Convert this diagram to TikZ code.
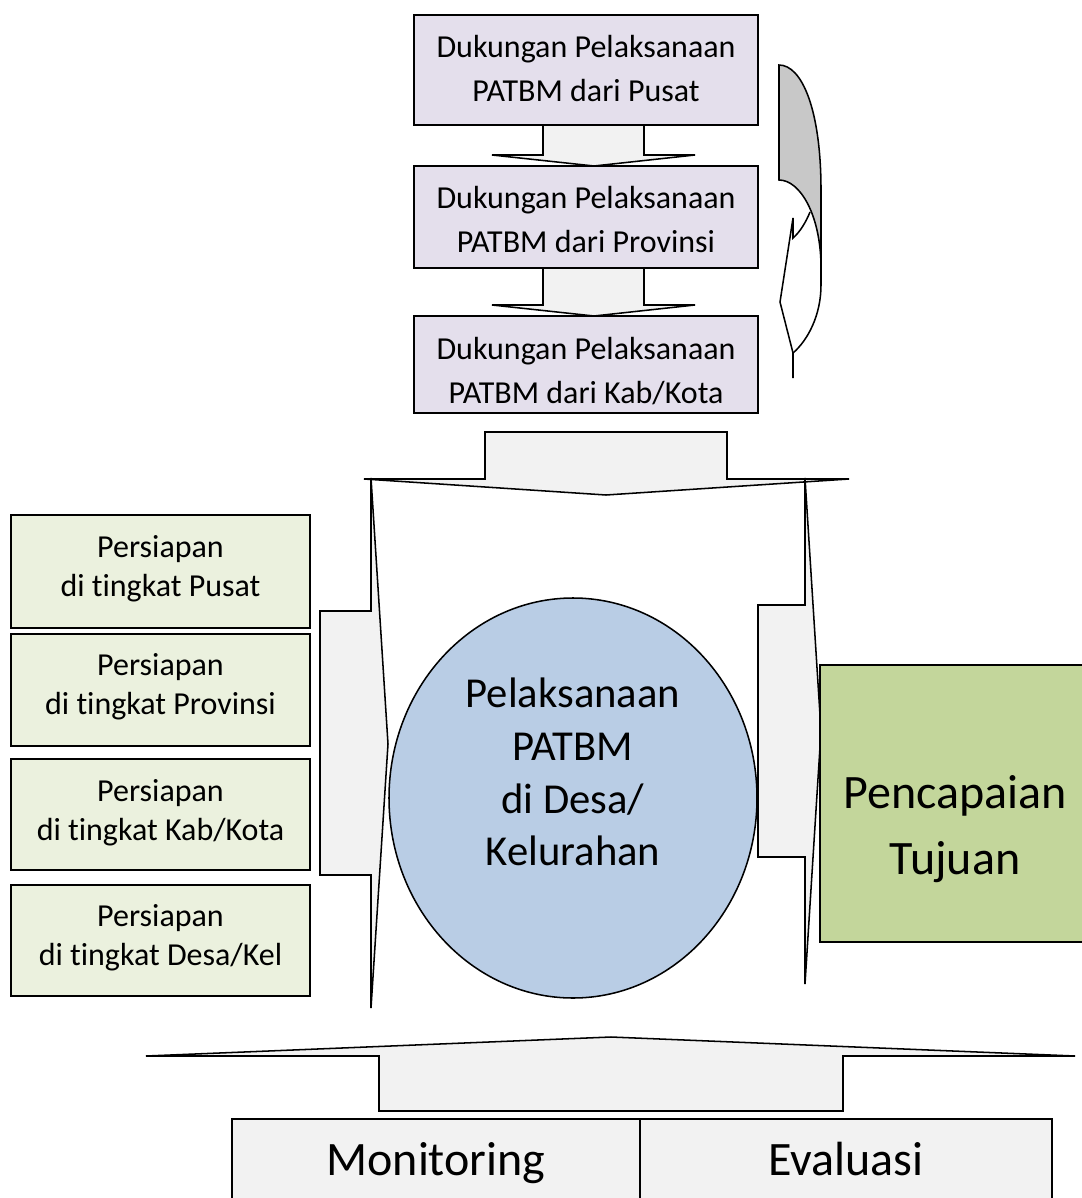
\documentclass[tikz,border=0pt]{standalone}
\usepackage{fontspec}
\setmainfont{Carlito}[Ligatures=NoCommon]
\usetikzlibrary{shapes.geometric}
\definecolor{lavfill}{HTML}{E4DFEC}
\definecolor{arrowfill}{HTML}{F2F2F2}
\definecolor{palegreen}{HTML}{EBF1DE}
\definecolor{bluefill}{HTML}{B9CDE5}
\definecolor{goalgreen}{HTML}{C3D69B}
\definecolor{backgray}{HTML}{C8C8C8}
\tikzset{
  outl/.style={draw=black, line width=1.15pt, line join=miter},
  blockarrow/.style={outl, fill=arrowfill},
  dukbox/.style={outl, fill=lavfill, rectangle, inner sep=0pt, minimum width=258pt},
  prepbox/.style={outl, fill=palegreen, rectangle, inner sep=0pt, minimum width=224.25pt},
  mebox/.style={outl, fill=arrowfill, rectangle, inner sep=0pt, minimum height=72pt},
  txt/.style={inner sep=0pt, align=center},
  dukfont/.style={txt, font=\fontsize{24}{33.5}\selectfont},
  prepfont/.style={txt, font=\fontsize{24}{29}\selectfont},
}
\begin{document}
\begin{tikzpicture}[x=0.75pt, y=-0.75pt]
\useasboundingbox (0,0) rectangle (1081,1198);

% --- curved return arrow beside the support column
\filldraw[outl, fill=backgray] (779,65) .. controls (802,65) and (821,110) .. (821,190)
  -- (821,268) .. controls (821,215) and (800,180) .. (779,180) -- cycle;
\draw[outl] (821,268) -- (821,285) .. controls (821,315) and (808,340) .. (793,353);
\draw[outl] (810,212) .. controls (806,222) and (800,232) .. (793,238)
  -- (793,218) -- (780,302) -- (793,353) -- (793,378);

% --- small arrows between the support boxes
\draw[blockarrow] (543,124) -- (644,124) -- (644,155) -- (695,155) -- (594,166)
  -- (492,155) -- (543,155) -- cycle;
\draw[blockarrow] (543,268) -- (644,268) -- (644,305) -- (695,305) -- (594,316)
  -- (492,305) -- (543,305) -- cycle;

% --- support boxes
\node[dukbox, minimum height=82.5pt] (d1) at (586,70) {};
\node[dukbox, minimum height=76.5pt] (d2) at (586,217) {};
\node[dukbox, minimum height=72.75pt] (d3) at (586,364.5) {};
\node[dukfont] (d1t) at (586,68.5) {Dukungan Pelaksanaan\\PATBM dari Pusat};
\node[dukfont] (d2t) at (586,219.5) {Dukungan Pelaksanaan\\PATBM dari Provinsi};
\node[dukfont] (d3t) at (586,371) {Dukungan Pelaksanaan\\PATBM dari Kab/Kota};

% --- large block arrows around the implementation
\draw[blockarrow] (485,432) -- (727,432) -- (727,479) -- (849,479) -- (606,495)
  -- (364,479) -- (485,479) -- cycle;
\draw[blockarrow] (320,611) -- (371,611) -- (371,478) -- (388,744) -- (371,1008)
  -- (371,875) -- (320,875) -- cycle;
\draw[blockarrow] (758,605) -- (805,605) -- (805,478) -- (821,731) -- (805,984)
  -- (805,857) -- (758,857) -- cycle;
\draw[blockarrow] (379,1111) -- (379,1056) -- (146,1056) -- (611,1037) -- (1075,1056)
  -- (843,1056) -- (843,1111) -- cycle;

% --- preparation boxes
\node[prepbox, minimum height=84.75pt] (p1) at (160.5,571.5) {};
\node[prepbox, minimum height=84pt] (p2) at (160.5,690) {};
\node[prepbox, minimum height=83.25pt] (p3) at (160.5,814.5) {};
\node[prepbox, minimum height=83.25pt] (p4) at (160.5,940.5) {};
\node[prepfont] (p1t) at (160.5,569) {Persiapan\\di tingkat Pusat};
\node[prepfont] (p2t) at (160.5,687) {Persiapan\\di tingkat Provinsi};
\node[prepfont] (p3t) at (160.5,812.5) {Persiapan\\di tingkat Kab/Kota};
\node[prepfont] (p4t) at (160.5,938) {Persiapan\\di tingkat Desa/Kel};

% --- implementation
\node[outl, fill=bluefill, ellipse, inner sep=0pt, minimum width=276pt,
  minimum height=300pt] (impl) at (573,798) {};
\node[txt, font=\fontsize{32}{39.5}\selectfont] (implt) at (573,772)
  {Pelaksanaan\\PATBM\\di Desa/\\Kelurahan};

% --- goal
\node[outl, fill=goalgreen, rectangle, inner sep=0pt, minimum width=202.5pt,
  minimum height=207.75pt] (goal) at (955,803.5) {};
\node[txt, font=\fontsize{36}{49.5}\selectfont] (goalt) at (955,829)
  {Pencapaian\\Tujuan};

% --- monitoring and evaluation
\node[mebox, minimum width=306pt] (mon) at (436,1167) {};
\node[mebox, minimum width=309pt] (eva) at (846,1167) {};
\node[txt, anchor=base, font=\fontsize{36}{43}\selectfont] (mont) at (436,1175) {Monitoring};
\node[txt, anchor=base, font=\fontsize{36}{43}\selectfont] (evat) at (846,1175) {Evaluasi};
\end{tikzpicture}
\end{document}
